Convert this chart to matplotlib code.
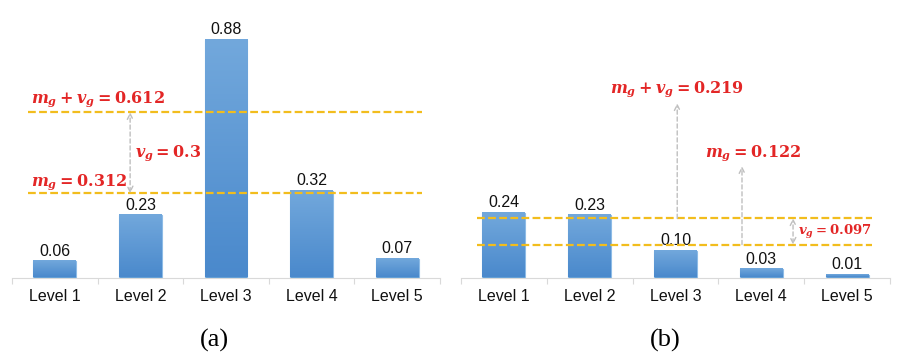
import numpy as np
import matplotlib
matplotlib.use("Agg")
import matplotlib.pyplot as plt
from matplotlib.colors import LinearSegmentedColormap

categories = ["Level 1", "Level 2", "Level 3", "Level 4", "Level 5"]
values_a = [0.06, 0.23, 0.88, 0.32, 0.07]
values_b = [0.24, 0.23, 0.10, 0.03, 0.01]
value_labels_a = ["0.06", "0.23", "0.88", "0.32", "0.07"]
value_labels_b = ["0.24", "0.23", "0.10", "0.03", "0.01"]
mean_a, var_a = 0.312, 0.3
mean_b, var_b = 0.122, 0.097
panel_labels = ["(a)", "(b)"]

plt.rcParams["mathtext.fontset"] = "custom"
plt.rcParams["mathtext.it"] = "DejaVu Serif:italic:bold"
plt.rcParams["mathtext.rm"] = "DejaVu Serif:bold"
plt.rcParams["mathtext.bf"] = "DejaVu Serif:bold"
plt.rcParams["font.family"] = ["Liberation Sans", "DejaVu Sans"]

fig = plt.figure(figsize=(9.11, 3.59), dpi=100)
W, H = 911, 359
base_px = 277.5
unit_px = 270.0
ax_a = fig.add_axes([12 / W, (H - base_px) / H, 428 / W, unit_px / H])
ax_b = fig.add_axes([461 / W, (H - base_px) / H, 429 / W, unit_px / H])

cmap = LinearSegmentedColormap.from_list("bar", ["#4a89cc", "#72a8dc"])
RED = "#e32626"
GOLD = "#f2bd1d"
GRAY = "#bfbfbf"


def draw_panel(ax, vals, labels):
    x = np.arange(len(categories))
    bars = ax.bar(x, vals, width=0.5, color="#5b9bd5", edgecolor="#8dbbe6",
                  linewidth=0.8, zorder=2)
    grad = np.linspace(0, 1, 100).reshape(-1, 1)
    for b in bars:
        x0, w, h = b.get_x(), b.get_width(), b.get_height()
        ax.imshow(grad, extent=[x0, x0 + w, 0, h], origin="lower",
                  cmap=cmap, aspect="auto", zorder=2.5)
    for b, lab in zip(bars, labels):
        ax.annotate(lab, (b.get_x() + b.get_width() / 2, b.get_height()),
                    xytext=(0, 2), textcoords="offset points",
                    ha="center", va="bottom", fontsize=11.5, color="#111111")
    ax.set_xlim(-0.5, len(categories) - 0.5)
    ax.set_ylim(0, 1.0)
    ax.set_xticks(x)
    ax.set_xticklabels(categories, fontsize=11.5, color="#111111")
    ax.set_xticks(np.arange(len(categories) + 1) - 0.5, minor=True)
    ax.tick_params(axis="x", which="major", length=0, pad=8)
    ax.tick_params(axis="x", which="minor", length=4, color="#d9d9d9", width=0.8)
    ax.set_yticks([])
    for s in ["top", "right", "left"]:
        ax.spines[s].set_visible(False)
    ax.spines["bottom"].set_color("#d9d9d9")
    ax.spines["bottom"].set_linewidth(0.8)
    ax.set_facecolor("none")


def hline(ax, y):
    ax.plot([-0.313, 4.29], [y, y], color=GOLD, lw=1.6,
            dashes=(3.5, 1.5), zorder=3)


def arrow(ax, x, y0, y1, style="->"):
    ax.annotate("", xy=(x, y1), xytext=(x, y0),
                arrowprops=dict(arrowstyle=style, color=GRAY, lw=1.0,
                                linestyle=(0, (3, 2)), shrinkA=0, shrinkB=0),
                zorder=3)


mtxt = dict(color=RED, fontsize=11.5)

# Panel (a)
draw_panel(ax_a, values_a, value_labels_a)
hline(ax_a, mean_a)
hline(ax_a, mean_a + var_a)
arrow(ax_a, 0.88, mean_a, mean_a + var_a, "<->")
ax_a.text(-0.278, 0.661, r"$m_g + v_g = 0.612$", ha="left", va="center", **mtxt)
ax_a.text(0.937, 0.461, r"$v_g = 0.3$", ha="left", va="center", **mtxt)
ax_a.text(-0.278, 0.354, r"$m_g = 0.312$", ha="left", va="center", **mtxt)

# Panel (b)
draw_panel(ax_b, values_b, value_labels_b)
hline(ax_b, mean_b)
hline(ax_b, mean_b + var_b)
arrow(ax_b, 2.02, mean_b + var_b, 0.645)
arrow(ax_b, 2.775, mean_b, 0.412)
arrow(ax_b, 3.37, mean_b, mean_b + var_b, "<->")
ax_b.text(2.02, 0.697, r"$m_g + v_g = 0.219$", ha="center", va="center", **mtxt)
ax_b.text(2.90, 0.46, r"$m_g = 0.122$", ha="center", va="center", **mtxt)
ax_b.text(3.43, 0.168, r"$v_g = 0.097$", ha="left", va="center",
          color=RED, fontsize=9.5)

fig.text(214 / W, (H - 340) / H, panel_labels[0], ha="center", va="center",
         fontsize=19, family="Liberation Serif")
fig.text(665 / W, (H - 340) / H, panel_labels[1], ha="center", va="center",
         fontsize=19, family="Liberation Serif")

fig.savefig("out.png", dpi=100)
